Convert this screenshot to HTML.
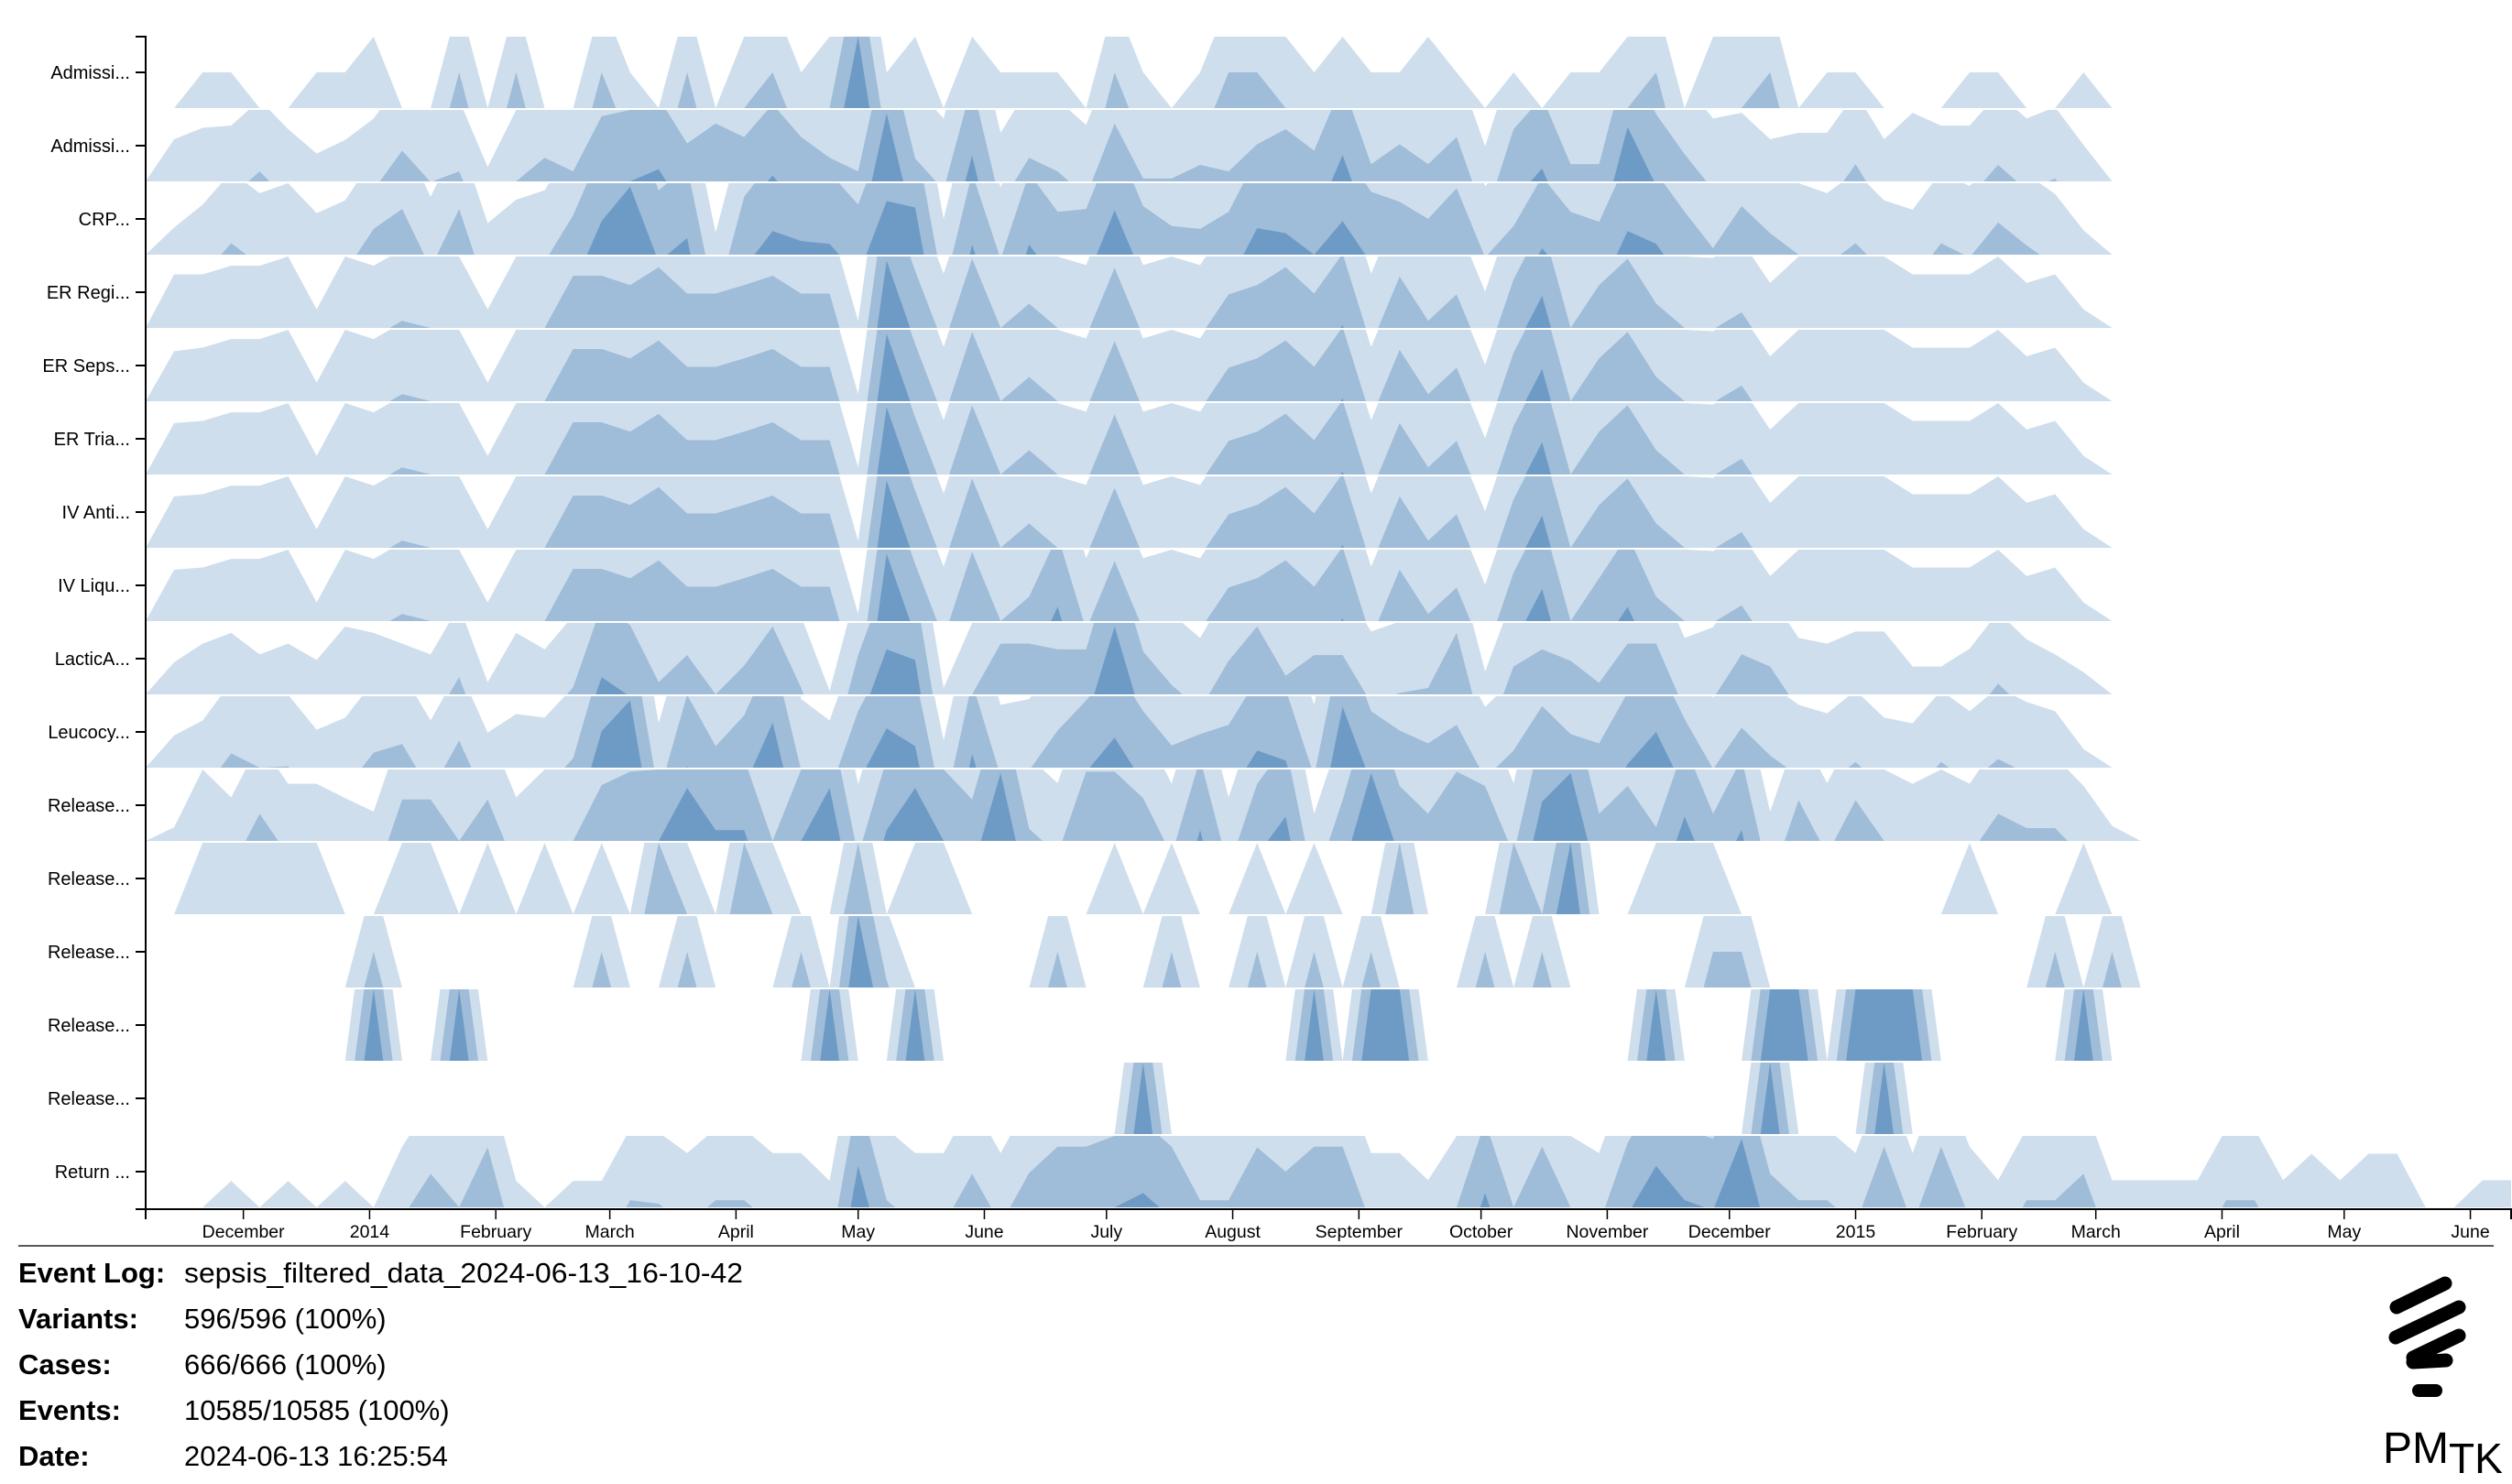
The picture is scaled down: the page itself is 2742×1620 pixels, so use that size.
<!DOCTYPE html>
<html><head><meta charset="utf-8">
<style>
html,body{margin:0;padding:0;background:#fff;}
svg{display:block;font-family:"Liberation Sans",Arial,sans-serif;}
</style></head>
<body>
<svg id="chart" width="2742" height="1620" viewBox="0 0 2742 1620" xmlns="http://www.w3.org/2000/svg">
  <defs id="clips"></defs>
  <g id="rows"></g>
  <g id="yaxis"></g>
  <g id="xaxis"></g>
  <line x1="20" y1="1360" x2="2722" y2="1360" stroke="#222" stroke-width="1.5"/>
  <g font-size="31" fill="#000">
    <text x="20" y="1400" font-weight="bold">Event Log:</text>
    <text x="201" y="1400" textLength="610" lengthAdjust="spacingAndGlyphs">sepsis_filtered_data_2024-06-13_16-10-42</text>
    <text x="20" y="1450" font-weight="bold">Variants:</text>
    <text x="201" y="1450">596/596 (100%)</text>
    <text x="20" y="1500" font-weight="bold">Cases:</text>
    <text x="201" y="1500">666/666 (100%)</text>
    <text x="20" y="1550" font-weight="bold">Events:</text>
    <text x="201" y="1550">10585/10585 (100%)</text>
    <text x="20" y="1600" font-weight="bold">Date:</text>
    <text x="201" y="1600">2024-06-13 16:25:54</text>
  </g>
  <g>
    <g stroke="#000" stroke-linecap="round" fill="none">
      <line x1="2616" y1="1427" x2="2669" y2="1401" stroke-width="15"/>
      <line x1="2615" y1="1460" x2="2684" y2="1427" stroke-width="15"/>
      <line x1="2634" y1="1482" x2="2684" y2="1458" stroke-width="15"/>
      <line x1="2634" y1="1487" x2="2670" y2="1485" stroke-width="15"/>
      <line x1="2640" y1="1518" x2="2659" y2="1518" stroke-width="14"/>
    </g>
    <text x="2601" y="1597" font-size="48">PM<tspan font-size="46" dy="11">TK</tspan></text>
  </g>
</svg>
<script>
const rowLabels = ["Admissi...","Admissi...","CRP...","ER Regi...","ER Seps...","ER Tria...","IV Anti...","IV Liqu...","LacticA...","Leucocy...","Release...","Release...","Release...","Release...","Release...","Return ..."];
const tickLabels = ["December","2014","February","March","April","May","June","July","August","September","October","November","December","2015","February","March","April","May","June"];
const tickDates = ["2013-12-01","2014-01-01","2014-02-01","2014-03-01","2014-04-01","2014-05-01","2014-06-01","2014-07-01","2014-08-01","2014-09-01","2014-10-01","2014-11-01","2014-12-01","2015-01-01","2015-02-01","2015-03-01","2015-04-01","2015-05-01","2015-06-01"];
const startDate = "2013-11-07";
const endDate = "2015-06-11";

const admissionIC = [0,0,.5,.5,0,0,.5,.5,1,0,0,1.5,0,1.5,0,0,1.5,.5,0,1.5,0,1,1.5,.5,1,3,.5,1,0,1,.5,.5,.5,0,1.5,.5,0,.5,1.5,1.5,1,.5,1,.5,.5,1,.5,0,.5,0,.5,.5,1,1.5,0,1,1,1.5,0,.5,.5,0,0,0,.5,.5,0,0,.5,0];
const admissionNC = [0,.59,.75,.78,1.14,.73,.39,.58,.88,1.43,.99,1.14,.2,1.0,1.33,1.14,1.91,2.0,2.17,1.53,1.81,1.62,2.08,1.62,1.33,1.14,2.95,1.32,.88,2.36,.68,1.33,1.14,.79,1.81,1.04,1.04,1.23,1.14,1.52,1.73,1.43,2.37,1.24,1.52,1.24,1.62,.49,1.73,2.18,1.24,1.24,2.76,1.94,1.38,.88,.96,.59,.68,.68,1.24,.59,.96,.78,.78,1.23,.88,1.04,.51,0];
const crp = [0,.38,.7,1.16,.86,1.0,.58,.76,1.36,1.64,.81,1.64,.44,.77,.9,1.55,2.47,2.95,1.9,2.23,.31,1.81,2.33,2.19,2.15,1.7,2.75,2.66,.5,2.14,.94,2.14,1.6,1.64,2.62,1.68,1.4,1.36,1.6,2.37,2.3,2.0,2.47,1.88,1.74,1.5,1.93,.96,1.4,2.09,1.6,1.46,2.33,2.15,1.6,1.09,1.68,1.3,1.0,.86,1.16,.76,.63,1.16,.96,1.45,1.13,.85,.34,0];
const erRegistration = [0,.75,.75,.87,.87,1.0,.26,1.0,.87,1.1,1.0,1.0,.26,1.0,1.0,1.73,1.73,1.6,1.85,1.48,1.48,1.6,1.73,1.48,1.48,.1,2.94,1.8,.76,1.97,1.0,1.34,1.0,.88,1.84,.88,1.0,.88,1.47,1.6,1.85,1.48,2.04,.76,1.72,1.1,1.47,.51,1.68,2.45,1.0,1.6,1.97,1.34,1.0,.98,1.22,.63,1.0,1.0,1.0,1.0,.75,.75,.75,1.0,.63,.75,.26,0];
const erSepsisTriage = [0,.7,.75,.87,.87,1.0,.26,1.0,.87,1.1,1.0,1.0,.26,1.0,1.0,1.73,1.73,1.6,1.85,1.48,1.48,1.6,1.73,1.48,1.48,.1,2.94,1.8,.76,1.97,1.0,1.34,1.0,.88,1.84,.88,1.0,.88,1.47,1.6,1.85,1.48,2.04,.76,1.72,1.1,1.47,.51,1.68,2.45,1.0,1.6,1.97,1.34,1.0,.98,1.22,.63,1.0,1.0,1.0,1.0,.75,.75,.75,1.0,.63,.75,.26,0];
const erTriage = [0,.72,.75,.87,.87,1.0,.26,1.0,.87,1.1,1.0,1.0,.26,1.0,1.0,1.73,1.73,1.6,1.85,1.48,1.48,1.6,1.73,1.48,1.48,.1,2.94,1.8,.76,1.97,1.0,1.34,1.0,.88,1.84,.88,1.0,.88,1.47,1.6,1.85,1.48,2.04,.76,1.72,1.1,1.47,.51,1.68,2.45,1.0,1.6,1.97,1.34,1.0,.98,1.22,.63,1.0,1.0,1.0,1.0,.75,.75,.75,1.0,.63,.75,.26,0];
const ivAntibiotics = [0,.72,.75,.87,.87,1.0,.26,1.0,.87,1.1,1.0,1.0,.26,1.0,1.0,1.73,1.73,1.6,1.85,1.48,1.48,1.6,1.73,1.48,1.48,.1,2.94,1.8,.76,1.97,1.0,1.34,1.0,.88,1.84,.88,1.0,.88,1.47,1.6,1.85,1.48,2.04,.76,1.72,1.1,1.47,.51,1.68,2.45,1.0,1.6,1.97,1.34,1.0,.98,1.22,.63,1.0,1.0,1.0,1.0,.75,.75,.75,1.0,.63,.75,.26,0];
const ivLiquid = [0,.72,.75,.87,.87,1.0,.26,1.0,.87,1.1,1.0,1.0,.26,1.0,1.0,1.73,1.73,1.6,1.85,1.48,1.48,1.6,1.73,1.48,1.48,.1,2.94,1.8,.76,1.97,1.0,1.34,2.2,.88,1.84,.88,1.0,.88,1.47,1.6,1.85,1.48,2.04,.76,1.72,1.1,1.47,.51,1.68,2.45,1.0,1.6,2.2,1.34,1.0,.98,1.22,.63,1.0,1.0,1.0,1.0,.75,.75,.75,1.0,.63,.75,.26,0];
const lacticAcid = [0,.45,.71,.86,.56,.71,.48,.95,.86,.71,.56,1.24,.17,.86,.63,1.1,2.24,1.97,1.17,1.55,1.0,1.4,1.95,1.09,.05,1.55,2.63,2.48,.09,1.0,1.71,1.71,1.63,1.63,2.95,1.6,1.13,.79,1.47,1.95,1.26,1.55,1.55,.88,1.02,1.09,1.86,.32,1.39,1.63,1.47,1.16,1.71,1.71,.79,.94,1.56,1.39,.79,.71,.88,.88,.39,.39,.64,1.15,.77,.56,.31,0];
const leucocytes = [0,.45,.66,1.2,1.0,1.02,.53,.7,1.21,1.33,.66,1.38,.49,.75,.7,1.13,2.51,2.94,.62,2.02,1.3,1.73,2.63,.96,.66,1.79,2.55,2.3,.38,2.19,.88,.96,1.52,1.94,2.42,1.79,1.31,1.47,1.6,2.24,2.1,.88,2.85,1.79,1.52,1.34,1.6,.85,1.24,1.86,1.47,1.34,2.05,2.5,1.68,.98,1.56,1.17,.88,.76,1.08,.7,.62,1.08,.79,1.12,.92,.79,.26,0];
const releaseA = [0,.19,1.0,.61,1.38,.8,.8,.6,.41,1.58,1.58,1.0,1.58,.61,1.0,1.0,1.78,1.97,2.0,2.74,2.15,2.15,1.0,2.0,2.74,.79,2.15,2.74,2.0,1.58,2.95,1.17,.81,1.97,1.97,1.6,.8,2.15,.61,1.8,2.34,.38,1.57,2.95,1.77,1.38,1.97,1.77,.81,2.55,2.95,1.38,1.77,1.19,2.34,1.38,2.15,.41,1.57,.81,1.57,1.0,.8,1.0,.8,1.38,1.18,1.18,.77,.21,0];
const releaseB = [0,0,1,1,1,1,1,0,0,1,1,0,1,0,1,0,1,0,2,1,0,2,1,0,0,2,0,1,1,0,0,0,0,0,1,0,1,0,0,1,0,1,0,0,2,0,0,0,2,1,3,0,0,1,1,1,0,0,0,0,0,0,0,0,1,0,0,0,1,0];
const releaseC = [0,0,0,0,0,0,0,0,1.5,0,0,0,0,0,0,0,1.5,0,0,1.5,0,0,0,1.5,0,3,1.1,0,0,0,0,0,1.5,0,0,0,1.5,0,0,1.5,0,1.5,0,1.5,0,0,0,1.5,0,1.5,0,0,0,0,0,1.5,1.5,0,0,0,0,0,0,0,0,0,0,1.5,0,1.5,0];
const releaseD = [0,0,0,0,0,0,0,0,3,0,0,3,0,0,0,0,0,0,0,0,0,0,0,0,3,0,0,3,0,0,0,0,0,0,0,0,0,0,0,0,0,3,0,3,3,0,0,0,0,0,0,0,0,3,0,0,0,3,3,0,3,3,3,0,0,0,0,0,3,0];
const releaseE = [0,0,0,0,0,0,0,0,0,0,0,0,0,0,0,0,0,0,0,0,0,0,0,0,0,0,0,0,0,0,0,0,0,0,0,3,0,0,0,0,0,0,0,0,0,0,0,0,0,0,0,0,0,0,0,0,0,3,0,0,0,3,0,0,0,0,0,0,0,0];
const returnER = [0,0,0,.37,0,.37,0,.37,0,.85,1.47,1.0,1.84,.37,0,.37,.37,1.1,1.05,.76,1.1,1.1,.76,.76,.37,2.58,1.1,.76,.76,1.47,.76,1.48,1.85,1.85,2.0,2.2,1.85,1.1,1.1,1.84,1.5,1.85,1.85,.76,.76,.38,1.0,2.2,1.0,1.85,1.0,.76,1.9,2.58,2.1,1.96,2.96,1.47,1.1,1.1,.76,1.85,.76,1.85,.85,.38,1.1,1.1,1.47,.38,.38,.38,.38,1.1,1.1,.38,.75,.38,.75,.75,0,0,.38,.38];

const seriesList = [admissionIC, admissionNC, crp, erRegistration, erSepsisTriage, erTriage, ivAntibiotics, ivLiquid, lacticAcid, leucocytes, releaseA, releaseB, releaseC, releaseD, releaseE, returnER];

const NS = "http://www.w3.org/2000/svg";
const X0 = 159, X1 = 2741;
const DAY = 86400000;
const t0 = Date.parse(startDate + "T00:00:00Z"), t1 = Date.parse(endDate + "T00:00:00Z");
function xScale(t){ return X0 + (t - t0) / (t1 - t0) * (X1 - X0); }
function xWeek(k){ return xScale(t0 + k * 7 * DAY); }
const ROW_TOP = 40, ROW_PITCH = 80, ROW_H = 78, AXIS_Y = 1320;
function rowTop(i){ return ROW_TOP + i * ROW_PITCH; }
const bandColors = ["#cedeec", "#9fbcd8", "#6d9bc5"];

function mk(tag, attrs){ const e = document.createElementNS(NS, tag); for (const k in attrs) e.setAttribute(k, attrs[k]); return e; }

const defs = document.getElementById("clips");
const rowsG = document.getElementById("rows");
seriesList.forEach((vals, i) => {
  const top = rowTop(i), base = top + ROW_H;
  const cp = mk("clipPath", {id: "clip" + i});
  cp.appendChild(mk("rect", {x: X0, y: top, width: X1 - X0 + 10, height: ROW_H}));
  defs.appendChild(cp);
  const g = mk("g", {"clip-path": "url(#clip" + i + ")"});
  
  
  for (let b = 0; b < 3; b++) {
    let d = "M" + xWeek(0).toFixed(2) + "," + base;
    vals.forEach((v, k) => { d += "L" + xWeek(k).toFixed(2) + "," + (base - (v - b) * ROW_H).toFixed(2); });
    d += "L" + xWeek(vals.length - 1).toFixed(2) + "," + base + "Z";
    const p = mk("path", {d: d, fill: bandColors[b]});
    
    
    g.appendChild(p);
  }
  rowsG.appendChild(g);
});

const yG = document.getElementById("yaxis");
yG.appendChild(mk("path", {d: "M148," + ROW_TOP + "H" + X0 + "V" + AXIS_Y + "H148", fill: "none", stroke: "#000", "stroke-width": 2}));
rowLabels.forEach((lab, i) => {
  const cy = rowTop(i) + ROW_H / 2;
  yG.appendChild(mk("line", {x1: 148, y1: cy, x2: X0, y2: cy, stroke: "#000", "stroke-width": 2}));
  const t = mk("text", {x: 142, y: cy + 7, "text-anchor": "end", "font-size": 20, fill: "#000"});
  
  
  t.textContent = lab;
  yG.appendChild(t);
});

const xG = document.getElementById("xaxis");
xG.appendChild(mk("path", {d: "M" + X0 + "," + (AXIS_Y + 11) + "V" + AXIS_Y + "H" + X1 + "V" + (AXIS_Y + 11), fill: "none", stroke: "#000", "stroke-width": 2}));
tickDates.forEach((ds, i) => {
  const x = xScale(Date.parse(ds + "T00:00:00Z"));
  xG.appendChild(mk("line", {x1: x, y1: AXIS_Y, x2: x, y2: AXIS_Y + 11, stroke: "#000", "stroke-width": 1.5}));
  const t = mk("text", {x: x, y: 1351, "text-anchor": "middle", "font-size": 19.5, fill: "#000"});
  
  
  t.textContent = tickLabels[i];
  xG.appendChild(t);
});
</script>
</body></html>
